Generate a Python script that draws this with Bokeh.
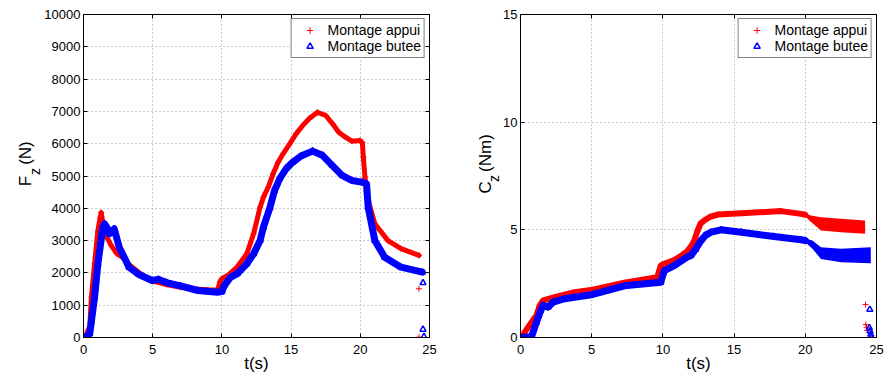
import math
from bokeh.plotting import figure
from bokeh.layouts import row
from bokeh.models import (Range1d, FixedTicker, LinearAxis, Legend, LegendItem)
from bokeh.core.properties import value
from bokeh.embed import file_html
from bokeh.resources import INLINE

# ---------------- data: F_z (N) ----------------
fz_appui_t = [0, 0.2, 0.3, 0.45, 0.57, 0.8, 1.04, 1.2, 1.28, 1.4, 1.63, 2.0, 2.4, 2.82, 3.3, 4.0,
              5.0, 6.0, 7.0, 8.0, 9.0, 9.7, 9.85, 10.0, 10.5, 11.1, 11.8, 12.29, 12.76, 13.0, 13.35,
              13.7, 14.06, 14.42, 14.9, 15.36, 15.84, 16.3, 16.9, 17.5, 17.97, 18.44, 18.9, 19.39,
              19.98, 20.15, 20.22, 20.34, 20.45, 20.57, 21.05, 22.0, 22.94, 24.24]
fz_appui = [0, 60, 200, 319, 1248, 2280, 3310, 3700, 3870, 3550, 3150, 2850, 2600, 2480, 2250, 2010,
            1745, 1640, 1555, 1505, 1480, 1470, 1720, 1820, 1950, 2180, 2590, 3210, 4034, 4344, 4653,
            5067, 5428, 5687, 5997, 6306, 6563, 6770, 6975, 6873, 6630, 6356, 6210, 6077,
            6099, 6030, 5582, 4963, 4500, 4241, 3520, 3000, 2750, 2540]
fz_appui_out_t = [24.24, 24.24]
fz_appui_out = [1508, 10]

fz_butee_t = [0, 0.3, 0.45, 0.57, 0.8, 1.04, 1.4, 1.52, 1.7, 1.87, 2.05, 2.22, 2.58, 3.29, 4.0, 4.95,
              5.4, 6.0, 7.0, 8.26, 9.68, 10.0, 10.16, 10.63, 11.1, 11.8, 12.29, 12.76, 13.0, 13.47,
              13.8, 14.18, 14.65, 15.13, 15.72, 16.55, 17.26, 17.97, 18.68, 19.39, 20.1, 20.45,
              20.57, 21.05, 21.76, 22.94, 24.48]
fz_butee = [0, 60, 114, 500, 1248, 2281, 3415, 3520, 3400, 3210, 3300, 3365, 2796, 2176, 1950, 1765,
            1800, 1700, 1600, 1455, 1403, 1420, 1600, 1867, 1972, 2281, 2590, 3003, 3415, 4020,
            4550, 4920, 5230, 5430, 5620, 5770, 5640, 5330, 5020, 4860, 4810, 4760,
            4034, 3003, 2486, 2176, 2022]
fz_butee_out_t = [24.53, 24.53, 24.6]
fz_butee_out = [1693, 250, 30]

# ---------------- data: C_z (Nm) ----------------
cz_appui_t = [0, 0.15, 0.3, 0.54, 0.89, 1.12, 1.35, 1.59, 2.4, 3.8, 5.08, 7.3, 9.6, 9.85, 10.0, 10.8,
              11.3, 11.7, 12.0, 12.2, 12.44, 12.65, 12.9, 13.3, 13.85, 15.5, 18.3, 19.7, 20.0]
cz_appui = [0, 0.05, 0.25, 0.48, 0.82, 1.02, 1.49, 1.72, 1.87, 2.1, 2.22, 2.55, 2.8, 3.34, 3.4, 3.6,
            3.8, 4.0, 4.25, 4.5, 4.97, 5.3, 5.43, 5.6, 5.71, 5.77, 5.87, 5.74, 5.7]
cz_appui_band_t = [20.0, 20.4, 21.1, 22.5, 24.2]
cz_appui_band_hi = [5.75, 5.67, 5.59, 5.51, 5.43]
cz_appui_band_lo = [5.62, 5.36, 4.97, 4.89, 4.82]
cz_appui_out_t = [24.23, 24.25, 24.3, 24.35]
cz_appui_out = [1.53, 0.6, 0.45, 0.33]

cz_butee_t = [0, 0.77, 1.12, 1.42, 1.59, 1.94, 2.29, 3.1, 5.08, 7.3, 9.85, 10.1, 10.8, 11.7, 11.97,
              12.3, 12.67, 13.0, 13.4, 14.08, 15.5, 17.8, 19.7, 20.0]
cz_butee = [0, 0.03, 0.71, 1.25, 1.49, 1.41, 1.64, 1.8, 2.0, 2.4, 2.57, 3.11, 3.34, 3.73, 3.81,
            4.1, 4.5, 4.75, 4.89, 5.0, 4.89, 4.69, 4.54, 4.5]
cz_butee_band_t = [20.0, 20.5, 21.1, 22.5, 24.6]
cz_butee_band_hi = [4.6, 4.5, 4.19, 4.12, 4.19]
cz_butee_band_lo = [4.42, 4.12, 3.65, 3.5, 3.45]
cz_butee_out_t = [24.53, 24.5, 24.55, 24.6, 24.62]
cz_butee_out = [1.3, 0.45, 0.3, 0.15, 0.05]

x_ticks = [0, 5, 10, 15, 20, 25]
fz_ticks = [0, 1000, 2000, 3000, 4000, 5000, 6000, 7000, 8000, 9000, 10000]
cz_ticks = [0, 5, 10, 15]
labels = ["Montage appui", "Montage butee"]

FONT = "Liberation Sans"
RED = "#ff0000"
BLUE = "#0000ff"
H = 376


def style_axis(ax, show_labels=True):
    ax.axis_line_color = "black"
    ax.axis_line_width = 1
    ax.major_tick_in = 4
    ax.major_tick_out = 0
    ax.major_tick_line_color = "black"
    ax.minor_tick_line_color = None
    ax.major_label_text_font = FONT
    if show_labels:
        ax.major_label_text_color = "black"
        ax.major_label_text_font_size = "13px"
    else:
        ax.major_label_text_color = None
        ax.major_label_text_font_size = "1px"
        ax.major_label_standoff = 0


def label_fig(width, pieces):
    """Narrow figure holding the rotated y-axis title (with subscript)."""
    f = figure(width=width, height=H, output_backend="svg", toolbar_location=None,
               x_range=Range1d(0, width), y_range=Range1d(0, H), min_border=0,
               x_axis_type=None, y_axis_type=None, title=None)
    f.outline_line_color = None
    f.background_fill_color = "white"
    f.border_fill_color = "white"
    for txt, x, y, size in pieces:
        f.text(x=[x], y=[y], text=[txt], angle=math.pi / 2, text_align="left",
               text_baseline="alphabetic", text_font=value(FONT),
               text_font_size=value(size), text_color="black")
    return f


def make_fig(width, border_left, border_right, y_max, y_ticks,
             red_t, red_y, blue_t, blue_y, red_out_t, red_out, blue_out_t, blue_out,
             red_w, blue_w, red_band=None, blue_band=None):
    p = figure(width=width, height=H, output_backend="svg", toolbar_location=None,
               x_range=Range1d(0, 25), y_range=Range1d(0, y_max), title=None,
               min_border_left=border_left, min_border_right=border_right,
               min_border_top=14, min_border_bottom=39)
    p.background_fill_color = "white"
    p.border_fill_color = "white"
    p.outline_line_color = "black"
    p.outline_line_width = 1

    p.xaxis.ticker = FixedTicker(ticks=x_ticks)
    p.yaxis.ticker = FixedTicker(ticks=y_ticks)
    style_axis(p.xaxis[0])
    style_axis(p.yaxis[0])
    p.xaxis.major_label_standoff = 7
    p.yaxis.major_label_standoff = 3
    p.xaxis.axis_label = "t(s)"
    p.xaxis.axis_label_text_font = FONT
    p.xaxis.axis_label_text_font_size = "17px"
    p.xaxis.axis_label_text_font_style = "normal"
    p.xaxis.axis_label_text_color = "black"
    p.xaxis.axis_label_standoff = -3

    top = LinearAxis(ticker=FixedTicker(ticks=x_ticks))
    style_axis(top, show_labels=False)
    p.add_layout(top, "above")
    right = LinearAxis(ticker=FixedTicker(ticks=y_ticks))
    style_axis(right, show_labels=False)
    p.add_layout(right, "right")

    p.xgrid[0].ticker = FixedTicker(ticks=x_ticks)
    p.ygrid[0].ticker = FixedTicker(ticks=y_ticks)
    for g in (p.xgrid[0], p.ygrid[0]):
        g.grid_line_color = "#9a9a9a"
        g.grid_line_dash = "1 3"
        g.grid_line_width = 1

    # red series
    p.line(red_t, red_y, line_color=RED, line_width=red_w, line_join="round", line_cap="round")
    if red_band:
        bt, lo, hi = red_band
        p.varea(x=bt, y1=lo, y2=hi, fill_color=RED)
    r_red = p.scatter(red_t, red_y, marker="cross", size=6, line_color=RED, line_width=1)
    p.scatter(red_out_t, red_out, marker="cross", size=6, line_color=RED, line_width=1)

    # blue series
    p.line(blue_t, blue_y, line_color=BLUE, line_width=blue_w, line_join="round", line_cap="round")
    if blue_band:
        bt, lo, hi = blue_band
        p.varea(x=bt, y1=lo, y2=hi, fill_color=BLUE)
    r_blue = p.scatter(blue_t, blue_y, marker="triangle", size=6, fill_color=None,
                       line_color=BLUE, line_width=1.5)
    p.scatter(blue_out_t, blue_out, marker="triangle", size=6, fill_color=None,
              line_color=BLUE, line_width=1.5)

    legend = Legend(items=[LegendItem(label=labels[0], renderers=[r_red]),
                           LegendItem(label=labels[1], renderers=[r_blue])],
                    location="top_right", margin=4, padding=3, spacing=0,
                    label_standoff=3, glyph_width=30, glyph_height=16, label_height=16,
                    label_text_font=FONT, label_text_font_size="14px",
                    label_text_color="black",
                    border_line_color="black", border_line_width=1,
                    background_fill_color="white", background_fill_alpha=1)
    p.add_layout(legend, "center")
    return p


lab1 = label_fig(41, [("F", 25, H - 200, "17px"),
                      ("z", 34.3, H - 186.7, "14px"),
                      ("(N)", 25, H - 175, "17px")])
p1 = make_fig(399, 36, 11, 10000, fz_ticks,
              fz_appui_t, fz_appui, fz_butee_t, fz_butee,
              fz_appui_out_t, fz_appui_out, fz_butee_out_t, fz_butee_out,
              5, 7)

lab2 = label_fig(60, [("C", 45, H - 208.3, "17px"),
                      ("z", 53.3, H - 195, "14px"),
                      ("(Nm)", 45, H - 183.3, "17px")])
p2 = make_fig(386, 19, 10, 15, cz_ticks,
              cz_appui_t, cz_appui, cz_butee_t, cz_butee,
              cz_appui_out_t, cz_appui_out, cz_butee_out_t, cz_butee_out,
              6, 7,
              red_band=(cz_appui_band_t, cz_appui_band_lo, cz_appui_band_hi),
              blue_band=(cz_butee_band_t, cz_butee_band_lo, cz_butee_band_hi))

layout = row(lab1, p1, lab2, p2, spacing=0)
open("out.html", "w").write(file_html(layout, INLINE))
